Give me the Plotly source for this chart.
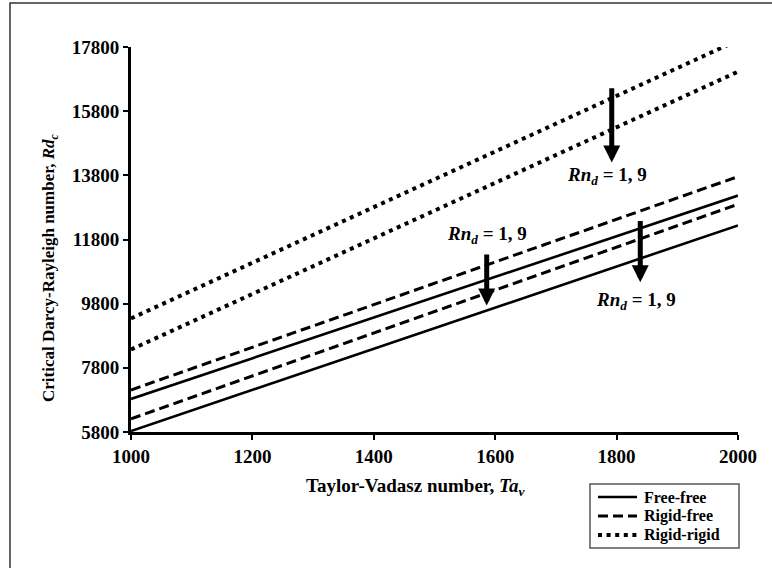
import plotly.graph_objects as go

# Taylor-Vadasz number
ta = [1000, 1200, 1400, 1600, 1800, 2000]

# Critical Darcy-Rayleigh number (Rn_d = 1 upper, Rn_d = 9 lower)
free_free_rn1 = [6830, 8100, 9370, 10630, 11900, 13170]
free_free_rn9 = [5830, 7110, 8390, 9680, 10960, 12240]
rigid_free_rn1 = [7110, 8440, 9770, 11100, 12430, 13760]
rigid_free_rn9 = [6210, 7550, 8890, 10220, 11560, 12900]
rigid_rigid_rn1 = [9340, 11070, 12810, 14540, 16280, 18010]
rigid_rigid_rn9 = [8370, 10100, 11830, 13570, 15300, 17030]

y_ticks = [5800, 7800, 9800, 11800, 13800, 15800, 17800]
x_ticks = [1000, 1200, 1400, 1600, 1800, 2000]
legend_names = ["Free-free", "Rigid-free", "Rigid-rigid"]

FONT = "Liberation Serif"

# plot area in pixels (for paper-coordinate decorations)
L, R, T, B = 131, 738, 47, 432
def px(x):
    return (x - L) / (R - L)
def py(y):
    return (B - y) / (B - T)

fig = go.Figure()

solid = dict(color="black", width=2.6)
dashed = dict(color="black", width=3, dash="10px,5px")
dotted = dict(color="black", width=4, dash="4px,4.6px")
styles = [solid, dashed, dotted]

series = [(free_free_rn1, solid), (free_free_rn9, solid),
          (rigid_free_rn1, dashed), (rigid_free_rn9, dashed),
          (rigid_rigid_rn1, dotted), (rigid_rigid_rn9, dotted)]
for vals, st in series:
    fig.add_trace(go.Scatter(x=ta, y=vals, mode="lines", line=st, showlegend=False,
                             hoverinfo="x+y"))

label = "<b><i>Rn</i><sub><i>d</i></sub> = 1, 9</b>"
lab_font = dict(family=FONT, size=19, color="black")

# arrows (tail -> tip) in data coords
arrows = [
    (1586, 11380, 9740),
    (1839, 12420, 10470),
    (1792, 16560, 14200),
]
for x, y0, y1 in arrows:
    fig.add_annotation(x=x, y=y1, ax=x, ay=y0, xref="x", yref="y", axref="x", ayref="y",
                       showarrow=True, arrowhead=2, arrowwidth=5, arrowsize=0.68,
                       arrowcolor="black", text="")

# labels
fig.add_annotation(x=1586, y=11940, text=label, showarrow=False, font=lab_font)
fig.add_annotation(x=1832, y=9880, text=label, showarrow=False, font=lab_font)
fig.add_annotation(x=1785, y=13770, text=label, showarrow=False, font=lab_font)

# axis titles
fig.add_annotation(xref="paper", yref="paper", x=px(50), y=py(268),
                   xanchor="center", yanchor="middle",
                   text="<b>Critical Darcy-Rayleigh number, <i>Rd</i><sub><i>c</i></sub></b>",
                   textangle=-90, showarrow=False, font=dict(family=FONT, size=17, color="black"))
fig.add_annotation(xref="paper", yref="paper", x=px(415), y=py(487),
                   xanchor="center", yanchor="middle",
                   text="<b>Taylor-Vadasz number, <i>Ta</i><sub><i>v</i></sub></b>",
                   showarrow=False, font=dict(family=FONT, size=19, color="black"))

# outer frame
fig.add_shape(type="rect", xref="paper", yref="paper",
              x0=px(10), x1=px(790), y0=py(600), y1=py(3),
              line=dict(color="#333333", width=1.5), layer="below")

# legend box (drawn manually to match the compact original)
fig.add_shape(type="rect", xref="paper", yref="paper",
              x0=px(590), x1=px(739), y0=py(548), y1=py(484),
              line=dict(color="#555555", width=1.5), fillcolor="white")
row_y = [497, 516, 535]
for name, st, ry in zip(legend_names, styles, row_y):
    fig.add_shape(type="line", xref="paper", yref="paper",
                  x0=px(598), x1=px(637), y0=py(ry), y1=py(ry),
                  line=st)
    fig.add_annotation(xref="paper", yref="paper", x=px(642), y=py(ry),
                       xanchor="left", yanchor="middle", text="<b>" + name + "</b>",
                       showarrow=False, font=dict(family=FONT, size=16, color="black"))

tick_font = dict(family=FONT, size=19, color="black", weight="bold")
fig.update_xaxes(range=[1000, 2000], tickvals=x_ticks, ticktext=[str(v) for v in x_ticks],
                 showgrid=False, zeroline=False,
                 showline=True, linecolor="black", linewidth=3, ticks="outside",
                 ticklen=5, tickwidth=1.5, tickcolor="black", tickfont=tick_font)
fig.update_yaxes(range=[5800, 17800], tickvals=y_ticks, ticktext=[str(v) for v in y_ticks],
                 showgrid=False, zeroline=False,
                 showline=True, linecolor="black", linewidth=3, ticks="outside",
                 ticklen=5, tickwidth=1.5, tickcolor="black", tickfont=tick_font)

fig.update_layout(
    width=772, height=568,
    margin=dict(l=L, r=772 - R, t=T, b=568 - B, autoexpand=False),
    plot_bgcolor="white", paper_bgcolor="white",
    showlegend=False,
    font=dict(family=FONT, color="black"),
)

fig.write_html("out.html", config={"displayModeBar": False},
               post_script="document.body.style.margin='0px';")
